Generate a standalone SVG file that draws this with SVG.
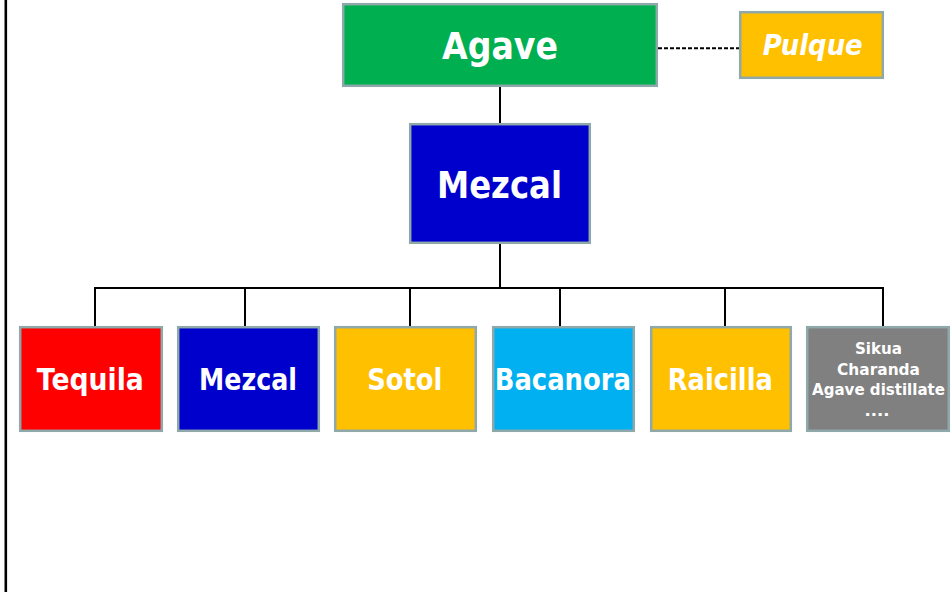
<svg xmlns="http://www.w3.org/2000/svg" width="952" height="592" viewBox="0 0 952 592">
<style>
.box{stroke:#8FA9AB;stroke-width:2.5}
.t{font-family:"DejaVu Sans",Verdana,sans-serif;font-weight:bold;fill:#FFFFFF;text-anchor:middle}
.c{stroke:#000000;stroke-width:2;fill:none}
</style>
<rect width="952" height="592" fill="#FFFFFF"/>
<line x1="5.8" y1="0" x2="5.8" y2="592" stroke="#000000" stroke-width="2.6"/>
<g id="connectors">
<line class="c" x1="658" y1="48.3" x2="739" y2="48.3" stroke-dasharray="4,2"/>
<line class="c" x1="500" y1="87" x2="500" y2="123"/>
<line class="c" x1="500" y1="244" x2="500" y2="288"/>
<line class="c" x1="94" y1="288" x2="884" y2="288"/>
<line class="c" x1="95" y1="288" x2="95" y2="326"/>
<line class="c" x1="245" y1="288" x2="245" y2="326"/>
<line class="c" x1="410" y1="288" x2="410" y2="326"/>
<line class="c" x1="560" y1="288" x2="560" y2="326"/>
<line class="c" x1="725" y1="288" x2="725" y2="326"/>
<line class="c" x1="883" y1="288" x2="883" y2="326"/>
</g>
<g id="agave">
<rect class="box" x="343.2" y="4.2" width="313.6" height="81.6" fill="#00B050"/>
<text class="t" x="500" y="59" font-size="38" textLength="116" lengthAdjust="spacingAndGlyphs">Agave</text>
</g>
<g id="pulque">
<rect class="box" x="740.2" y="12.2" width="142.6" height="65.6" fill="#FFC000"/>
<text class="t" x="812.7" y="54.5" font-size="29" font-style="italic" textLength="100" lengthAdjust="spacingAndGlyphs">Pulque</text>
</g>
<g id="mezcal-main">
<rect class="box" x="410.2" y="124.2" width="179.6" height="118.6" fill="#0000CC"/>
<text class="t" x="499.5" y="197.7" font-size="38" textLength="125" lengthAdjust="spacingAndGlyphs">Mezcal</text>
</g>
<g id="tequila">
<rect class="box" x="20.2" y="327.2" width="141.6" height="103.6" fill="#FF0000"/>
<text class="t" x="90.3" y="390" font-size="30" textLength="107" lengthAdjust="spacingAndGlyphs">Tequila</text>
</g>
<g id="mezcal">
<rect class="box" x="178.2" y="327.2" width="140.6" height="103.6" fill="#0000CC"/>
<text class="t" x="248" y="390" font-size="30" textLength="98" lengthAdjust="spacingAndGlyphs">Mezcal</text>
</g>
<g id="sotol">
<rect class="box" x="335.2" y="327.2" width="140.6" height="103.6" fill="#FFC000"/>
<text class="t" x="404.8" y="390" font-size="30" textLength="75" lengthAdjust="spacingAndGlyphs">Sotol</text>
</g>
<g id="bacanora">
<rect class="box" x="493.2" y="327.2" width="140.6" height="103.6" fill="#00B0F0"/>
<text class="t" x="562.8" y="390" font-size="30" textLength="136" lengthAdjust="spacingAndGlyphs">Bacanora</text>
</g>
<g id="raicilla">
<rect class="box" x="651.2" y="327.2" width="139.6" height="103.6" fill="#FFC000"/>
<text class="t" x="720.3" y="390" font-size="30" textLength="105" lengthAdjust="spacingAndGlyphs">Raicilla</text>
</g>
<g id="others">
<rect class="box" x="807.2" y="327.2" width="141.6" height="103.6" fill="#808080"/>
<text class="t" x="878.5" y="354" font-size="15.5" textLength="47" lengthAdjust="spacingAndGlyphs">Sikua</text>
<text class="t" x="878.5" y="375" font-size="15.5" textLength="83" lengthAdjust="spacingAndGlyphs">Charanda</text>
<text class="t" x="878.5" y="395" font-size="15.5" textLength="133" lengthAdjust="spacingAndGlyphs">Agave distillate</text>
<text class="t" x="877" y="416" font-size="15.5" textLength="25" lengthAdjust="spacingAndGlyphs">....</text>
</g>
</svg>
